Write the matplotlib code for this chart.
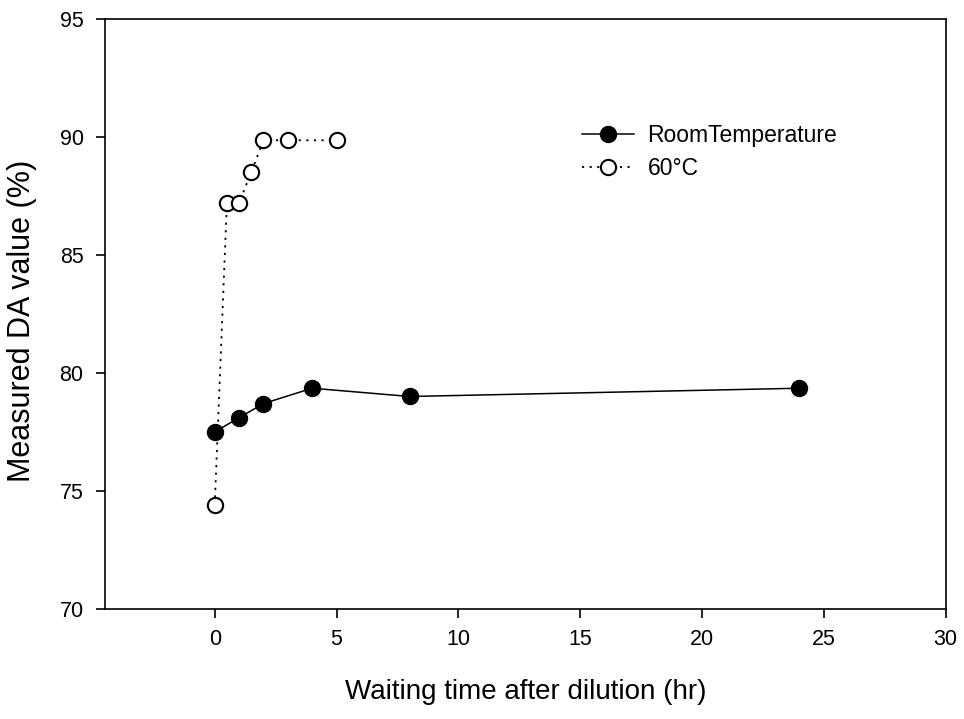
import matplotlib
matplotlib.use('Agg')
import matplotlib.pyplot as plt

plt.rcParams['font.family'] = ['Liberation Sans', 'DejaVu Sans']

# --- Dados ---
tempoAmbiente = [0, 1, 2, 4, 8, 24]
daAmbiente = [77.5, 78.1, 78.7, 79.35, 79.0, 79.35]

tempo60 = [0, 0.5, 1, 1.5, 2, 3, 5]
da60 = [74.4, 87.2, 87.2, 88.5, 89.85, 89.85, 89.85]

xTicks = [0, 5, 10, 15, 20, 25, 30]
yTicks = [70, 75, 80, 85, 90, 95]

fig = plt.figure(figsize=(9.64, 7.19), dpi=100)
ax = fig.add_axes([0.109, 0.153, 0.872, 0.821])

ax.plot(tempoAmbiente, daAmbiente, '-o', color='black', lw=1.1,
        markersize=11.5, markerfacecolor='black', markeredgecolor='black',
        label='RoomTemperature', zorder=3)
ax.plot(tempo60, da60, 'o', color='black', lw=1.3, linestyle=(0, (1.2, 3)),
        markersize=11, markerfacecolor='white', markeredgecolor='black',
        markeredgewidth=1.5, label='60°C', zorder=4)

ax.set_xlim(-4.5, 30)
ax.set_ylim(70, 95)
ax.set_xticks(xTicks)
ax.set_yticks(yTicks)
ax.tick_params(direction='out', length=6.5, width=1.2, labelsize=15.5,
               top=False, right=False)
ax.tick_params(axis='x', pad=8)
ax.tick_params(axis='y', pad=9)
for s in ax.spines.values():
    s.set_linewidth(1.2)

ax.set_xlabel('Waiting time after dilution (hr)', fontsize=20, va='top')
ax.xaxis.set_label_coords(0.5, -0.118)
ax.set_ylabel('Measured DA value (%)', fontsize=22)
ax.yaxis.set_label_coords(-0.081, 0.488)

ax.legend(loc='upper left', bbox_to_anchor=(0.567, 0.821), frameon=False,
          fontsize=16.5, handlelength=2.3, handletextpad=0.57,
          labelspacing=0.4, borderpad=0, borderaxespad=0)

plt.savefig('out.png', dpi=100)
